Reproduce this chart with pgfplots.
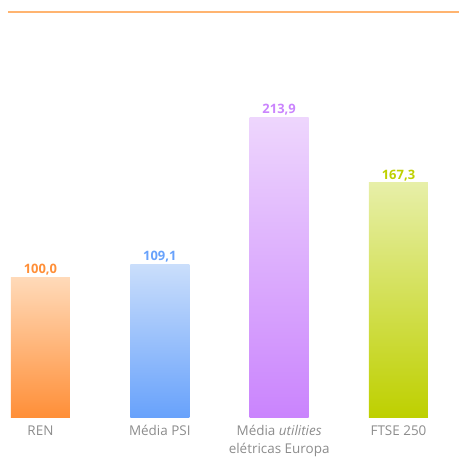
\documentclass[border=0pt]{standalone}
\usepackage{pgfplots}
\pgfplotsset{compat=1.18}
\usepackage{fontspec}
\setmainfont{Open Sans}

\definecolor{renTop}{HTML}{FFDAB9}
\definecolor{renBot}{HTML}{FF8F38}
\definecolor{psiTop}{HTML}{CADEFB}
\definecolor{psiBot}{HTML}{68A2FB}
\definecolor{utTop}{HTML}{EED6FD}
\definecolor{utBot}{HTML}{CA84FD}
\definecolor{ftTop}{HTML}{E7EFA8}
\definecolor{ftBot}{HTML}{BED000}
\definecolor{rule}{HTML}{FFB470}
\definecolor{lbl}{HTML}{8C8C8C}

\begin{document}
\begin{tikzpicture}
\useasboundingbox (0,-42bp) rectangle (459bp,417bp);
\begin{axis}[
    scale only axis,
    width=459bp, height=417bp,
    xmin=-0.339, xmax=3.507,
    ymin=0, ymax=297.86,
    clip=false,
    axis x line*=bottom,
    x axis line style={draw=none},
    ytick=\empty,
    axis y line=none,
    xtick={0,1,2,3},
    xticklabels={REN, Média PSI, {Média \textit{utilities}\\elétricas Europa}, FTSE 250},
    major tick length=0pt,
    xticklabel style={font=\fontsize{13.5}{18}\selectfont, text=lbl, align=center, anchor=north, yshift=-5bp},
    ybar, bar width=59bp, bar shift=0pt,
    nodes near coords={\pgfmathprintnumber[fixed,fixed zerofill,precision=1,use comma]{\pgfplotspointmeta}},
    every node near coord/.append style={font=\fontsize{13}{15}\selectfont\bfseries, yshift=-1.5bp},
    /pgf/number format/assume math mode=true,
]
\addplot[draw=none, top color=renTop, bottom color=renBot, every node near coord/.append style={text=renBot}] coordinates {(0,100.0)};
\addplot[draw=none, top color=psiTop, bottom color=psiBot, every node near coord/.append style={text=psiBot}] coordinates {(1,109.1)};
\addplot[draw=none, top color=utTop, bottom color=utBot, every node near coord/.append style={text=utBot}] coordinates {(2,213.9)};
\addplot[draw=none, top color=ftTop, bottom color=ftBot, every node near coord/.append style={text=ftBot}] coordinates {(3,167.3)};
\draw[rule, line width=2bp] (axis cs:-0.272,289.3) -- (axis cs:3.507,289.3);
\end{axis}
\end{tikzpicture}
\end{document}
